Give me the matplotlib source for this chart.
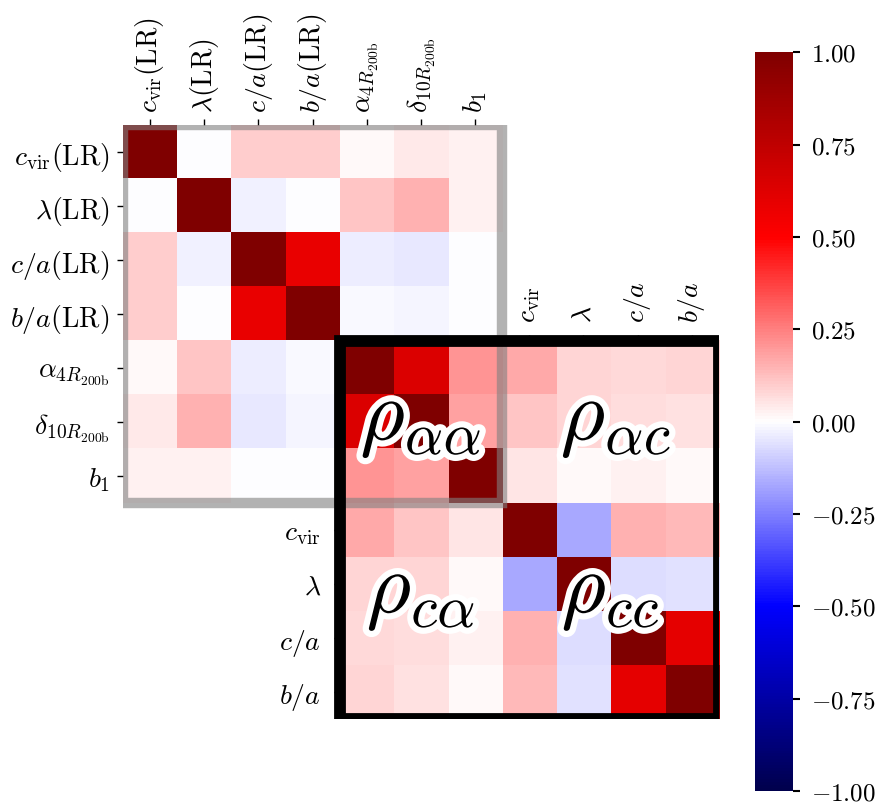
import numpy as np
import matplotlib
matplotlib.use("Agg")
import matplotlib.pyplot as plt
from matplotlib.patches import Rectangle
import matplotlib.patheffects as pe

plt.rcParams["mathtext.fontset"] = "cm"
plt.rcParams["font.family"] = "serif"
plt.rcParams["font.serif"] = ["cmr10", "DejaVu Serif"]

# labels
lr_labels = [r"$c_{\mathrm{vir}}(\mathrm{LR})$", r"$\lambda(\mathrm{LR})$",
             r"$c/a(\mathrm{LR})$", r"$b/a(\mathrm{LR})$",
             r"$\alpha_{4R_{200\mathrm{b}}}$", r"$\delta_{10R_{200\mathrm{b}}}$", r"$b_1$"]
hr_labels = [r"$c_{\mathrm{vir}}$", r"$\lambda$", r"$c/a$", r"$b/a$"]

# correlation of LR properties with alpha, delta, b1 (top-left block)
corr_lr = np.array([
    [1.00, -0.006, 0.10, 0.10, 0.015, 0.045, 0.025],
    [-0.006, 1.00, -0.024, -0.006, 0.11, 0.15, 0.03],
    [0.10, -0.024, 1.00, 0.58, -0.035, -0.04, -0.005],
    [0.10, -0.006, 0.58, 1.00, -0.01, -0.02, -0.005],
    [0.015, 0.11, -0.035, -0.01, 1.00, 0.64, 0.21],
    [0.045, 0.15, -0.04, -0.02, 0.64, 1.00, 0.18],
    [0.025, 0.03, -0.005, -0.005, 0.21, 0.18, 1.00],
])

# correlation of alpha, delta, b1 with halo properties (bottom-right block)
corr_hr = np.array([
    [1.00, 0.64, 0.21, 0.17, 0.08, 0.075, 0.08],
    [0.64, 1.00, 0.18, 0.11, 0.08, 0.07, 0.06],
    [0.21, 0.18, 1.00, 0.05, 0.015, 0.025, 0.015],
    [0.17, 0.11, 0.05, 1.00, -0.167, 0.15, 0.14],
    [0.08, 0.08, 0.015, -0.167, 1.00, -0.07, -0.06],
    [0.075, 0.07, 0.025, 0.15, -0.07, 1.00, 0.60],
    [0.08, 0.06, 0.015, 0.14, -0.06, 0.60, 1.00],
])

n = 11
full = np.full((n, n), np.nan)
full[:7, :7] = corr_lr
full[4:, 4:] = corr_hr

fig = plt.figure(figsize=(8.81, 8.04), dpi=100)
ax = fig.add_axes([0.1394, 0.1045, 0.6767, 0.739])
im = ax.imshow(np.ma.masked_invalid(full), cmap="seismic", vmin=-1, vmax=1,
               aspect="auto", interpolation="nearest")
ax.set_xlim(-0.5, n - 0.5)
ax.set_ylim(n - 0.5, -0.5)
for s in ax.spines.values():
    s.set_visible(False)

ax.xaxis.tick_top()
ax.set_xticks(range(7))
ax.set_xticklabels(lr_labels, rotation=90, fontsize=20)
ax.set_yticks(range(7))
ax.set_yticklabels(lr_labels, fontsize=20)
ax.tick_params(length=4.5, width=1, pad=5)

# frames around the two blocks
ax.add_patch(Rectangle((-0.5, -0.5), 7, 7, fill=False, edgecolor="gray",
                       alpha=0.6, lw=7.5, zorder=3))
ax.add_patch(Rectangle((3.5, 3.5), 7, 7, fill=False, edgecolor="black",
                       lw=8.5, zorder=4))

# inner labels for the halo block
ax2 = ax.inset_axes([4 / 11, 0, 7 / 11, 7 / 11])
ax2.set_xlim(-0.5, 6.5)
ax2.set_ylim(6.5, -0.5)
ax2.patch.set_visible(False)
for s in ax2.spines.values():
    s.set_visible(False)
ax2.xaxis.tick_top()
ax2.set_xticks(range(3, 7))
ax2.set_xticklabels(hr_labels, rotation=90, fontsize=20)
ax2.set_yticks(range(3, 7))
ax2.set_yticklabels(hr_labels, fontsize=20)
ax2.tick_params(length=4.5, width=1, pad=9)

stroke = [pe.withStroke(linewidth=9, foreground="white")]
big = dict(fontsize=62, ha="center", va="center", zorder=6, path_effects=stroke)
ax.text(5.0, 5.0, r"$\rho_{\alpha\alpha}$", **big)
ax.text(8.6, 5.0, r"$\rho_{\alpha c}$", **big)
ax.text(5.0, 8.2, r"$\rho_{c\alpha}$", **big)
ax.text(8.5, 8.2, r"$\rho_{cc}$", **big)

cax = fig.add_axes([0.857, 0.0149, 0.0431, 0.919])
cb = fig.colorbar(im, cax=cax, ticks=np.linspace(-1, 1, 9), format="$%.2f$")
cb.outline.set_visible(False)
cax.tick_params(labelsize=18, length=5, width=1.5, pad=8)

fig.savefig("out.png", dpi=100)
